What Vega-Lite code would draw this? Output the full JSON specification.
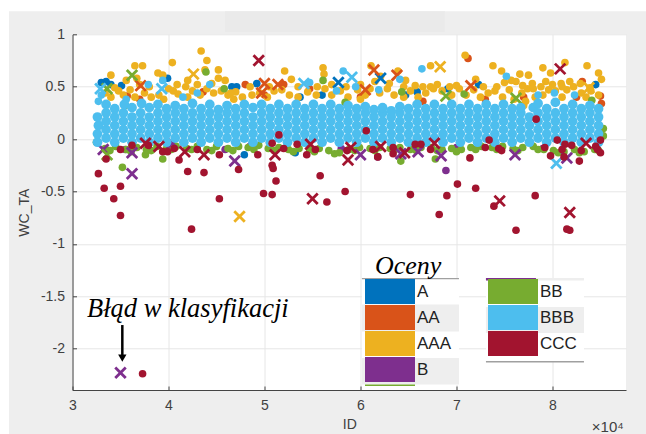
{"$schema":"https://vega.github.io/schema/vega-lite/v6.json","width":553.5,"height":355.7,"autosize":{"type":"none"},"padding":{"left":72.5,"top":34.3,"right":20,"bottom":44},"background":"#eeeeee","config":{"view":{"fill":"#ffffff","stroke":null},"font":"Liberation Sans"},
"datasets":{
"circles":[
{"x":33000,"y":0.54,"r":"A"},{"x":33500,"y":0.55,"r":"A"},{"x":34000,"y":0.52,"r":"A"},{"x":35100,"y":0.51,"r":"A"},{"x":39900,"y":0.58,"r":"A"},{"x":46600,"y":0.5,"r":"A"},{"x":47100,"y":0.5,"r":"A"},{"x":49200,"y":0.53,"r":"A"},{"x":53700,"y":0.4,"r":"A"},{"x":56000,"y":0.42,"r":"A"},{"x":53200,"y":-0.13,"r":"A"},{"x":47900,"y":-0.15,"r":"A"},{"x":84500,"y":0.52,"r":"A"},{"x":72300,"y":0.52,"r":"A"},{"x":65900,"y":0.45,"r":"A"},{"x":69100,"y":0.48,"r":"A"},{"x":64700,"y":0.42,"r":"A"},
{"x":48000,"y":0.52,"r":"AA"},{"x":52000,"y":0.52,"r":"AA"},{"x":54700,"y":0.48,"r":"AA"},{"x":43600,"y":0.45,"r":"AA"},{"x":35700,"y":0.41,"r":"AA"},{"x":71200,"y":0.77,"r":"AA"},{"x":85000,"y":0.41,"r":"AA"},{"x":85100,"y":0.34,"r":"AA"},{"x":83100,"y":0.55,"r":"AA"},{"x":37000,"y":0.38,"r":"AA"},{"x":50000,"y":0.42,"r":"AA"},{"x":60000,"y":0.4,"r":"AA"},{"x":66500,"y":0.36,"r":"AA"},{"x":73000,"y":0.38,"r":"AA"},{"x":77000,"y":0.4,"r":"AA"},{"x":82500,"y":0.4,"r":"AA"},
{"x":43400,"y":0.84,"r":"AAA"},{"x":44000,"y":0.75,"r":"AAA"},{"x":40400,"y":0.73,"r":"AAA"},{"x":37300,"y":0.7,"r":"AAA"},{"x":36500,"y":0.7,"r":"AAA"},{"x":34000,"y":0.61,"r":"AAA"},{"x":38900,"y":0.63,"r":"AAA"},{"x":39400,"y":0.61,"r":"AAA"},{"x":45200,"y":0.66,"r":"AAA"},{"x":43800,"y":0.66,"r":"AAA"},{"x":42000,"y":0.56,"r":"AAA"},{"x":45200,"y":0.58,"r":"AAA"},{"x":45900,"y":0.56,"r":"AAA"},{"x":52100,"y":0.65,"r":"AAA"},{"x":52800,"y":0.57,"r":"AAA"},{"x":56100,"y":0.68,"r":"AAA"},{"x":56200,"y":0.62,"r":"AAA"},{"x":35600,"y":0.56,"r":"AAA"},{"x":34400,"y":0.49,"r":"AAA"},{"x":36700,"y":0.58,"r":"AAA"},{"x":40900,"y":0.52,"r":"AAA"},{"x":61100,"y":0.7,"r":"AAA"},{"x":70900,"y":0.8,"r":"AAA"},{"x":67300,"y":0.7,"r":"AAA"},{"x":73800,"y":0.7,"r":"AAA"},{"x":74700,"y":0.65,"r":"AAA"},{"x":76600,"y":0.62,"r":"AAA"},{"x":77500,"y":0.61,"r":"AAA"},{"x":79000,"y":0.68,"r":"AAA"},{"x":79800,"y":0.63,"r":"AAA"},{"x":81300,"y":0.73,"r":"AAA"},{"x":83600,"y":0.7,"r":"AAA"},{"x":84800,"y":0.63,"r":"AAA"},{"x":85100,"y":0.57,"r":"AAA"},{"x":79300,"y":0.55,"r":"AAA"},{"x":63900,"y":0.65,"r":"AAA"},{"x":62100,"y":0.6,"r":"AAA"},{"x":64700,"y":0.56,"r":"AAA"},{"x":72000,"y":0.57,"r":"AAA"},{"x":75000,"y":0.54,"r":"AAA"},{"x":75700,"y":0.56,"r":"AAA"},{"x":81800,"y":0.55,"r":"AAA"},{"x":80900,"y":0.53,"r":"AAA"},{"x":82900,"y":0.53,"r":"AAA"},{"x":69300,"y":0.5,"r":"AAA"},{"x":67300,"y":0.5,"r":"AAA"},{"x":65700,"y":0.51,"r":"AAA"},{"x":77900,"y":0.53,"r":"AAA"},{"x":76900,"y":0.51,"r":"AAA"},{"x":83900,"y":0.49,"r":"AAA"},
{"x":33400,"y":0.44,"r":"AAA"},{"x":34800,"y":0.46,"r":"AAA"},{"x":35300,"y":0.42,"r":"AAA"},{"x":36000,"y":0.47,"r":"AAA"},{"x":37500,"y":0.44,"r":"AAA"},{"x":38200,"y":0.4,"r":"AAA"},{"x":39000,"y":0.42,"r":"AAA"},{"x":40000,"y":0.48,"r":"AAA"},{"x":40500,"y":0.46,"r":"AAA"},{"x":41000,"y":0.43,"r":"AAA"},{"x":42500,"y":0.46,"r":"AAA"},{"x":43300,"y":0.42,"r":"AAA"},{"x":44000,"y":0.48,"r":"AAA"},{"x":44700,"y":0.44,"r":"AAA"},{"x":45500,"y":0.46,"r":"AAA"},{"x":46200,"y":0.42,"r":"AAA"},{"x":47000,"y":0.45,"r":"AAA"},{"x":48700,"y":0.42,"r":"AAA"},{"x":49500,"y":0.44,"r":"AAA"},{"x":51000,"y":0.46,"r":"AAA"},{"x":51800,"y":0.47,"r":"AAA"},{"x":52600,"y":0.42,"r":"AAA"},{"x":54500,"y":0.45,"r":"AAA"},{"x":56300,"y":0.48,"r":"AAA"},{"x":57000,"y":0.42,"r":"AAA"},{"x":57900,"y":0.46,"r":"AAA"},{"x":59700,"y":0.47,"r":"AAA"},{"x":60500,"y":0.42,"r":"AAA"},{"x":61000,"y":0.48,"r":"AAA"},{"x":62000,"y":0.44,"r":"AAA"},{"x":62800,"y":0.48,"r":"AAA"},{"x":63500,"y":0.42,"r":"AAA"},{"x":65200,"y":0.46,"r":"AAA"},{"x":66800,"y":0.44,"r":"AAA"},{"x":67600,"y":0.48,"r":"AAA"},{"x":68500,"y":0.46,"r":"AAA"},{"x":70300,"y":0.48,"r":"AAA"},{"x":71000,"y":0.42,"r":"AAA"},{"x":71800,"y":0.47,"r":"AAA"},{"x":73300,"y":0.44,"r":"AAA"},{"x":74000,"y":0.46,"r":"AAA"},{"x":75500,"y":0.47,"r":"AAA"},{"x":76800,"y":0.44,"r":"AAA"},{"x":77200,"y":0.36,"r":"AAA"},{"x":77400,"y":0.48,"r":"AAA"},{"x":79600,"y":0.47,"r":"AAA"},{"x":80300,"y":0.46,"r":"AAA"},{"x":81000,"y":0.5,"r":"AAA"},{"x":81500,"y":0.47,"r":"AAA"},{"x":82200,"y":0.5,"r":"AAA"},{"x":83000,"y":0.44,"r":"AAA"},{"x":84000,"y":0.46,"r":"AAA"},
{"x":37000,"y":0.52,"r":"AAA"},{"x":38000,"y":0.5,"r":"AAA"},{"x":41800,"y":0.5,"r":"AAA"},{"x":43000,"y":0.52,"r":"AAA"},{"x":44500,"y":0.53,"r":"AAA"},{"x":46500,"y":0.44,"r":"AAA"},{"x":48500,"y":0.5,"r":"AAA"},{"x":50500,"y":0.5,"r":"AAA"},{"x":53500,"y":0.5,"r":"AAA"},{"x":55500,"y":0.5,"r":"AAA"},{"x":57000,"y":0.52,"r":"AAA"},{"x":58500,"y":0.5,"r":"AAA"},{"x":60000,"y":0.52,"r":"AAA"},{"x":61500,"y":0.55,"r":"AAA"},{"x":63000,"y":0.53,"r":"AAA"},{"x":64500,"y":0.5,"r":"AAA"},{"x":66500,"y":0.5,"r":"AAA"},{"x":68000,"y":0.52,"r":"AAA"},{"x":70000,"y":0.51,"r":"AAA"},{"x":72800,"y":0.5,"r":"AAA"},{"x":74200,"y":0.5,"r":"AAA"},{"x":76200,"y":0.55,"r":"AAA"},{"x":78000,"y":0.48,"r":"AAA"},{"x":78800,"y":0.5,"r":"AAA"},{"x":80000,"y":0.52,"r":"AAA"},
{"x":34000,"y":0.4,"r":"AAA"},{"x":36500,"y":0.4,"r":"AAA"},{"x":39500,"y":0.38,"r":"AAA"},{"x":42000,"y":0.4,"r":"AAA"},{"x":46800,"y":0.38,"r":"AAA"},{"x":47700,"y":0.4,"r":"AAA"},{"x":50300,"y":0.4,"r":"AAA"},{"x":53500,"y":0.4,"r":"AAA"},{"x":55400,"y":0.42,"r":"AAA"},{"x":58700,"y":0.4,"r":"AAA"},{"x":60000,"y":0.38,"r":"AAA"},{"x":64500,"y":0.4,"r":"AAA"},{"x":66000,"y":0.4,"r":"AAA"},{"x":69500,"y":0.42,"r":"AAA"},{"x":72500,"y":0.4,"r":"AAA"},{"x":74800,"y":0.4,"r":"AAA"},{"x":76000,"y":0.38,"r":"AAA"},{"x":77000,"y":0.32,"r":"AAA"},{"x":78200,"y":0.4,"r":"AAA"},{"x":79000,"y":0.42,"r":"AAA"},{"x":81000,"y":0.4,"r":"AAA"},{"x":83500,"y":0.4,"r":"AAA"},{"x":84800,"y":0.42,"r":"AAA"},
{"x":35500,"y":-0.1,"r":"B"},{"x":45900,"y":-0.1,"r":"B"},{"x":48500,"y":-0.07,"r":"B"},{"x":68900,"y":-0.3,"r":"B"},{"x":61800,"y":-0.17,"r":"B"},{"x":58000,"y":-0.09,"r":"B"},{"x":70000,"y":-0.08,"r":"B"},{"x":79000,"y":-0.09,"r":"B"},
{"x":43900,"y":0.64,"r":"BB"},{"x":45800,"y":0.48,"r":"BB"},{"x":56100,"y":0.56,"r":"BB"},{"x":35200,"y":-0.27,"r":"BB"},{"x":37600,"y":-0.15,"r":"BB"},{"x":39400,"y":-0.19,"r":"BB"},{"x":35500,"y":0.32,"r":"BB"},{"x":64300,"y":0.45,"r":"BB"},{"x":58400,"y":0.35,"r":"BB"},{"x":70800,"y":0.43,"r":"BB"},{"x":84100,"y":0.37,"r":"BB"},{"x":64200,"y":-0.21,"r":"BB"},{"x":67800,"y":-0.19,"r":"BB"},
{"x":32500,"y":-0.03,"r":"BB"},{"x":33400,"y":-0.09,"r":"BB"},{"x":34500,"y":-0.07,"r":"BB"},{"x":35600,"y":-0.1,"r":"BB"},{"x":36700,"y":-0.08,"r":"BB"},{"x":37700,"y":-0.1,"r":"BB"},{"x":38800,"y":-0.07,"r":"BB"},{"x":39800,"y":-0.09,"r":"BB"},{"x":40800,"y":-0.07,"r":"BB"},{"x":41900,"y":-0.09,"r":"BB"},{"x":43000,"y":-0.07,"r":"BB"},{"x":44000,"y":-0.1,"r":"BB"},{"x":45000,"y":-0.07,"r":"BB"},{"x":46200,"y":-0.09,"r":"BB"},{"x":47300,"y":-0.07,"r":"BB"},{"x":48300,"y":-0.08,"r":"BB"},{"x":49400,"y":-0.06,"r":"BB"},{"x":50400,"y":-0.09,"r":"BB"},{"x":51500,"y":-0.08,"r":"BB"},{"x":52500,"y":-0.1,"r":"BB"},{"x":53600,"y":-0.09,"r":"BB"},{"x":54700,"y":-0.1,"r":"BB"},{"x":55700,"y":-0.09,"r":"BB"},{"x":56700,"y":-0.11,"r":"BB"},{"x":57800,"y":-0.13,"r":"BB"},{"x":58800,"y":-0.1,"r":"BB"},{"x":59900,"y":-0.08,"r":"BB"},{"x":61000,"y":-0.09,"r":"BB"},{"x":62000,"y":-0.08,"r":"BB"},{"x":63100,"y":-0.09,"r":"BB"},{"x":64100,"y":-0.08,"r":"BB"},{"x":65200,"y":-0.1,"r":"BB"},{"x":66300,"y":-0.08,"r":"BB"},{"x":67400,"y":-0.08,"r":"BB"},{"x":68500,"y":-0.1,"r":"BB"},{"x":69500,"y":-0.09,"r":"BB"},{"x":70500,"y":-0.1,"r":"BB"},{"x":71500,"y":-0.08,"r":"BB"},{"x":72600,"y":-0.07,"r":"BB"},{"x":73700,"y":-0.08,"r":"BB"},{"x":74800,"y":-0.07,"r":"BB"},{"x":75900,"y":-0.09,"r":"BB"},{"x":76900,"y":-0.08,"r":"BB"},{"x":78000,"y":-0.07,"r":"BB"},{"x":79100,"y":-0.1,"r":"BB"},{"x":80100,"y":-0.11,"r":"BB"},{"x":81200,"y":-0.12,"r":"BB"},{"x":82300,"y":-0.1,"r":"BB"},{"x":83300,"y":-0.12,"r":"BB"},{"x":84400,"y":-0.1,"r":"BB"},{"x":85300,"y":0.03,"r":"BB"},{"x":85300,"y":0.1,"r":"BB"},
{"x":33900,"y":-0.11,"r":"BB"},{"x":36100,"y":-0.12,"r":"BB"},{"x":38200,"y":-0.11,"r":"BB"},{"x":40300,"y":-0.1,"r":"BB"},{"x":42400,"y":-0.1,"r":"BB"},{"x":44500,"y":-0.11,"r":"BB"},{"x":46700,"y":-0.11,"r":"BB"},{"x":48900,"y":-0.1,"r":"BB"},{"x":51000,"y":-0.11,"r":"BB"},{"x":53000,"y":-0.12,"r":"BB"},{"x":55200,"y":-0.12,"r":"BB"},{"x":57300,"y":-0.14,"r":"BB"},{"x":59400,"y":-0.11,"r":"BB"},{"x":61500,"y":-0.11,"r":"BB"},{"x":63600,"y":-0.1,"r":"BB"},{"x":65800,"y":-0.11,"r":"BB"},{"x":68000,"y":-0.11,"r":"BB"},{"x":70000,"y":-0.12,"r":"BB"},{"x":72000,"y":-0.1,"r":"BB"},{"x":74200,"y":-0.1,"r":"BB"},{"x":76400,"y":-0.11,"r":"BB"},{"x":78500,"y":-0.1,"r":"BB"},{"x":80600,"y":-0.13,"r":"BB"},{"x":82800,"y":-0.13,"r":"BB"},{"x":84800,"y":-0.11,"r":"BB"},
{"x":58200,"y":0.65,"r":"BBB"},{"x":66400,"y":0.67,"r":"BBB"},{"x":64100,"y":0.57,"r":"BBB"},{"x":54700,"y":0.54,"r":"BBB"},{"x":44300,"y":0.52,"r":"BBB"},{"x":37900,"y":0.52,"r":"BBB"},{"x":39400,"y":0.56,"r":"BBB"},{"x":75200,"y":0.6,"r":"BBB"},{"x":57500,"y":0.46,"r":"BBB"},{"x":59500,"y":0.5,"r":"BBB"},{"x":61900,"y":0.47,"r":"BBB"},{"x":78500,"y":0.42,"r":"BBB"},{"x":80200,"y":0.44,"r":"BBB"},{"x":82300,"y":0.42,"r":"BBB"},{"x":43000,"y":0.44,"r":"BBB"},{"x":33000,"y":0.42,"r":"BBB"},{"x":35600,"y":0.38,"r":"BBB"},{"x":41500,"y":0.4,"r":"BBB"},
{"x":32600,"y":-0.03,"r":"BBB"},{"x":32600,"y":0.05,"r":"BBB"},{"x":32700,"y":0.13,"r":"BBB"},{"x":32600,"y":0.21,"r":"BBB"},{"x":32700,"y":0.36,"r":"BBB"},
{"x":33500,"y":0.01,"r":"BBB"},{"x":33500,"y":0.09,"r":"BBB"},{"x":33500,"y":0.17,"r":"BBB"},{"x":33500,"y":0.25,"r":"BBB"},{"x":33500,"y":0.33,"r":"BBB"},
{"x":34400,"y":-0.03,"r":"BBB"},{"x":34400,"y":0.05,"r":"BBB"},{"x":34400,"y":0.13,"r":"BBB"},{"x":34400,"y":0.21,"r":"BBB"},{"x":34400,"y":0.29,"r":"BBB"},
{"x":35300,"y":0.01,"r":"BBB"},{"x":35300,"y":0.09,"r":"BBB"},{"x":35300,"y":0.17,"r":"BBB"},{"x":35300,"y":0.25,"r":"BBB"},{"x":35400,"y":0.33,"r":"BBB"},
{"x":36200,"y":-0.03,"r":"BBB"},{"x":36200,"y":0.05,"r":"BBB"},{"x":36200,"y":0.13,"r":"BBB"},{"x":36200,"y":0.21,"r":"BBB"},{"x":36200,"y":0.3,"r":"BBB"},
{"x":37100,"y":0.01,"r":"BBB"},{"x":37100,"y":0.09,"r":"BBB"},{"x":37100,"y":0.17,"r":"BBB"},{"x":37100,"y":0.25,"r":"BBB"},{"x":37200,"y":0.34,"r":"BBB"},
{"x":38000,"y":-0.03,"r":"BBB"},{"x":38000,"y":0.05,"r":"BBB"},{"x":38000,"y":0.13,"r":"BBB"},{"x":38000,"y":0.21,"r":"BBB"},{"x":38000,"y":0.3,"r":"BBB"},
{"x":38900,"y":0.01,"r":"BBB"},{"x":38900,"y":0.09,"r":"BBB"},{"x":38900,"y":0.17,"r":"BBB"},{"x":38900,"y":0.25,"r":"BBB"},{"x":38900,"y":0.33,"r":"BBB"},
{"x":39800,"y":-0.03,"r":"BBB"},{"x":39800,"y":0.05,"r":"BBB"},{"x":39800,"y":0.13,"r":"BBB"},{"x":39800,"y":0.21,"r":"BBB"},{"x":39800,"y":0.29,"r":"BBB"},
{"x":40700,"y":0.01,"r":"BBB"},{"x":40700,"y":0.09,"r":"BBB"},{"x":40700,"y":0.17,"r":"BBB"},{"x":40700,"y":0.25,"r":"BBB"},{"x":40700,"y":0.32,"r":"BBB"},
{"x":41600,"y":-0.03,"r":"BBB"},{"x":41600,"y":0.05,"r":"BBB"},{"x":41600,"y":0.13,"r":"BBB"},{"x":41600,"y":0.21,"r":"BBB"},{"x":41600,"y":0.29,"r":"BBB"},
{"x":42500,"y":0.01,"r":"BBB"},{"x":42500,"y":0.09,"r":"BBB"},{"x":42500,"y":0.17,"r":"BBB"},{"x":42500,"y":0.25,"r":"BBB"},{"x":42500,"y":0.34,"r":"BBB"},
{"x":43400,"y":-0.03,"r":"BBB"},{"x":43400,"y":0.05,"r":"BBB"},{"x":43400,"y":0.13,"r":"BBB"},{"x":43400,"y":0.21,"r":"BBB"},{"x":43400,"y":0.29,"r":"BBB"},
{"x":44300,"y":0.01,"r":"BBB"},{"x":44300,"y":0.09,"r":"BBB"},{"x":44300,"y":0.17,"r":"BBB"},{"x":44300,"y":0.25,"r":"BBB"},{"x":44300,"y":0.33,"r":"BBB"},
{"x":45200,"y":-0.03,"r":"BBB"},{"x":45200,"y":0.05,"r":"BBB"},{"x":45200,"y":0.13,"r":"BBB"},{"x":45200,"y":0.21,"r":"BBB"},{"x":45200,"y":0.28,"r":"BBB"},
{"x":46100,"y":0.01,"r":"BBB"},{"x":46100,"y":0.09,"r":"BBB"},{"x":46100,"y":0.17,"r":"BBB"},{"x":46100,"y":0.25,"r":"BBB"},{"x":46100,"y":0.32,"r":"BBB"},
{"x":47000,"y":-0.03,"r":"BBB"},{"x":47000,"y":0.05,"r":"BBB"},{"x":47000,"y":0.13,"r":"BBB"},{"x":47000,"y":0.21,"r":"BBB"},{"x":47000,"y":0.29,"r":"BBB"},
{"x":47900,"y":0.01,"r":"BBB"},{"x":47900,"y":0.09,"r":"BBB"},{"x":47900,"y":0.17,"r":"BBB"},{"x":47900,"y":0.25,"r":"BBB"},{"x":47900,"y":0.33,"r":"BBB"},
{"x":48800,"y":-0.03,"r":"BBB"},{"x":48800,"y":0.05,"r":"BBB"},{"x":48800,"y":0.13,"r":"BBB"},{"x":48800,"y":0.21,"r":"BBB"},{"x":48800,"y":0.3,"r":"BBB"},
{"x":49700,"y":0.01,"r":"BBB"},{"x":49700,"y":0.09,"r":"BBB"},{"x":49700,"y":0.17,"r":"BBB"},{"x":49700,"y":0.25,"r":"BBB"},{"x":49700,"y":0.33,"r":"BBB"},
{"x":50600,"y":-0.03,"r":"BBB"},{"x":50600,"y":0.05,"r":"BBB"},{"x":50600,"y":0.13,"r":"BBB"},{"x":50600,"y":0.21,"r":"BBB"},{"x":50600,"y":0.29,"r":"BBB"},
{"x":51500,"y":0.01,"r":"BBB"},{"x":51500,"y":0.09,"r":"BBB"},{"x":51500,"y":0.17,"r":"BBB"},{"x":51500,"y":0.25,"r":"BBB"},{"x":51500,"y":0.33,"r":"BBB"},
{"x":52400,"y":-0.03,"r":"BBB"},{"x":52400,"y":0.05,"r":"BBB"},{"x":52400,"y":0.13,"r":"BBB"},{"x":52400,"y":0.21,"r":"BBB"},{"x":52400,"y":0.29,"r":"BBB"},
{"x":53300,"y":0.01,"r":"BBB"},{"x":53300,"y":0.09,"r":"BBB"},{"x":53300,"y":0.17,"r":"BBB"},{"x":53300,"y":0.25,"r":"BBB"},{"x":53300,"y":0.33,"r":"BBB"},
{"x":54200,"y":-0.03,"r":"BBB"},{"x":54200,"y":0.05,"r":"BBB"},{"x":54200,"y":0.13,"r":"BBB"},{"x":54200,"y":0.21,"r":"BBB"},{"x":54200,"y":0.29,"r":"BBB"},
{"x":55100,"y":0.01,"r":"BBB"},{"x":55100,"y":0.09,"r":"BBB"},{"x":55100,"y":0.17,"r":"BBB"},{"x":55100,"y":0.25,"r":"BBB"},{"x":55100,"y":0.33,"r":"BBB"},
{"x":56000,"y":-0.03,"r":"BBB"},{"x":56000,"y":0.05,"r":"BBB"},{"x":56000,"y":0.13,"r":"BBB"},{"x":56000,"y":0.21,"r":"BBB"},{"x":56000,"y":0.29,"r":"BBB"},
{"x":56900,"y":0.01,"r":"BBB"},{"x":56900,"y":0.09,"r":"BBB"},{"x":56900,"y":0.17,"r":"BBB"},{"x":56900,"y":0.25,"r":"BBB"},{"x":56900,"y":0.33,"r":"BBB"},
{"x":57800,"y":-0.03,"r":"BBB"},{"x":57800,"y":0.05,"r":"BBB"},{"x":57800,"y":0.13,"r":"BBB"},{"x":57800,"y":0.21,"r":"BBB"},{"x":57800,"y":0.29,"r":"BBB"},
{"x":58700,"y":0.01,"r":"BBB"},{"x":58700,"y":0.09,"r":"BBB"},{"x":58700,"y":0.17,"r":"BBB"},{"x":58700,"y":0.25,"r":"BBB"},{"x":58700,"y":0.32,"r":"BBB"},
{"x":59600,"y":-0.03,"r":"BBB"},{"x":59600,"y":0.05,"r":"BBB"},{"x":59600,"y":0.13,"r":"BBB"},{"x":59600,"y":0.21,"r":"BBB"},{"x":59600,"y":0.29,"r":"BBB"},
{"x":60500,"y":0.01,"r":"BBB"},{"x":60500,"y":0.09,"r":"BBB"},{"x":60500,"y":0.17,"r":"BBB"},{"x":60500,"y":0.25,"r":"BBB"},{"x":60500,"y":0.31,"r":"BBB"},
{"x":61400,"y":-0.03,"r":"BBB"},{"x":61400,"y":0.05,"r":"BBB"},{"x":61400,"y":0.13,"r":"BBB"},{"x":61400,"y":0.21,"r":"BBB"},{"x":61400,"y":0.28,"r":"BBB"},
{"x":62300,"y":0.01,"r":"BBB"},{"x":62300,"y":0.09,"r":"BBB"},{"x":62300,"y":0.17,"r":"BBB"},{"x":62300,"y":0.25,"r":"BBB"},{"x":62300,"y":0.3,"r":"BBB"},
{"x":63200,"y":-0.03,"r":"BBB"},{"x":63200,"y":0.05,"r":"BBB"},{"x":63200,"y":0.13,"r":"BBB"},{"x":63200,"y":0.21,"r":"BBB"},{"x":63200,"y":0.27,"r":"BBB"},
{"x":64100,"y":0.01,"r":"BBB"},{"x":64100,"y":0.09,"r":"BBB"},{"x":64100,"y":0.17,"r":"BBB"},{"x":64100,"y":0.25,"r":"BBB"},{"x":64100,"y":0.31,"r":"BBB"},
{"x":65000,"y":-0.03,"r":"BBB"},{"x":65000,"y":0.05,"r":"BBB"},{"x":65000,"y":0.13,"r":"BBB"},{"x":65000,"y":0.21,"r":"BBB"},{"x":65000,"y":0.29,"r":"BBB"},
{"x":65900,"y":0.01,"r":"BBB"},{"x":65900,"y":0.09,"r":"BBB"},{"x":65900,"y":0.17,"r":"BBB"},{"x":65900,"y":0.25,"r":"BBB"},{"x":65900,"y":0.33,"r":"BBB"},
{"x":66800,"y":-0.03,"r":"BBB"},{"x":66800,"y":0.05,"r":"BBB"},{"x":66800,"y":0.13,"r":"BBB"},{"x":66800,"y":0.21,"r":"BBB"},{"x":66800,"y":0.29,"r":"BBB"},
{"x":67700,"y":0.01,"r":"BBB"},{"x":67700,"y":0.09,"r":"BBB"},{"x":67700,"y":0.17,"r":"BBB"},{"x":67700,"y":0.25,"r":"BBB"},{"x":67700,"y":0.33,"r":"BBB"},
{"x":68600,"y":-0.03,"r":"BBB"},{"x":68600,"y":0.05,"r":"BBB"},{"x":68600,"y":0.13,"r":"BBB"},{"x":68600,"y":0.21,"r":"BBB"},{"x":68600,"y":0.29,"r":"BBB"},
{"x":69500,"y":0.01,"r":"BBB"},{"x":69500,"y":0.09,"r":"BBB"},{"x":69500,"y":0.17,"r":"BBB"},{"x":69500,"y":0.25,"r":"BBB"},{"x":69500,"y":0.33,"r":"BBB"},
{"x":70400,"y":-0.03,"r":"BBB"},{"x":70400,"y":0.05,"r":"BBB"},{"x":70400,"y":0.13,"r":"BBB"},{"x":70400,"y":0.21,"r":"BBB"},{"x":70400,"y":0.29,"r":"BBB"},
{"x":71300,"y":0.01,"r":"BBB"},{"x":71300,"y":0.09,"r":"BBB"},{"x":71300,"y":0.17,"r":"BBB"},{"x":71300,"y":0.25,"r":"BBB"},{"x":71300,"y":0.33,"r":"BBB"},
{"x":72200,"y":-0.03,"r":"BBB"},{"x":72200,"y":0.05,"r":"BBB"},{"x":72200,"y":0.13,"r":"BBB"},{"x":72200,"y":0.21,"r":"BBB"},{"x":72200,"y":0.29,"r":"BBB"},
{"x":73100,"y":0.01,"r":"BBB"},{"x":73100,"y":0.09,"r":"BBB"},{"x":73100,"y":0.17,"r":"BBB"},{"x":73100,"y":0.25,"r":"BBB"},{"x":73100,"y":0.33,"r":"BBB"},
{"x":74000,"y":-0.03,"r":"BBB"},{"x":74000,"y":0.05,"r":"BBB"},{"x":74000,"y":0.13,"r":"BBB"},{"x":74000,"y":0.21,"r":"BBB"},{"x":74000,"y":0.29,"r":"BBB"},
{"x":74900,"y":0.01,"r":"BBB"},{"x":74900,"y":0.09,"r":"BBB"},{"x":74900,"y":0.17,"r":"BBB"},{"x":74900,"y":0.25,"r":"BBB"},{"x":74900,"y":0.33,"r":"BBB"},
{"x":75800,"y":-0.03,"r":"BBB"},{"x":75800,"y":0.05,"r":"BBB"},{"x":75800,"y":0.13,"r":"BBB"},{"x":75800,"y":0.21,"r":"BBB"},{"x":75800,"y":0.29,"r":"BBB"},
{"x":76700,"y":0.01,"r":"BBB"},{"x":76700,"y":0.09,"r":"BBB"},{"x":76700,"y":0.17,"r":"BBB"},{"x":76700,"y":0.25,"r":"BBB"},{"x":76700,"y":0.3,"r":"BBB"},
{"x":77600,"y":-0.03,"r":"BBB"},{"x":77600,"y":0.05,"r":"BBB"},{"x":77600,"y":0.13,"r":"BBB"},{"x":77600,"y":0.21,"r":"BBB"},{"x":78000,"y":0.3,"r":"BBB"},
{"x":78500,"y":0.01,"r":"BBB"},{"x":78500,"y":0.09,"r":"BBB"},{"x":78500,"y":0.17,"r":"BBB"},{"x":78500,"y":0.25,"r":"BBB"},{"x":78500,"y":0.34,"r":"BBB"},
{"x":79400,"y":-0.03,"r":"BBB"},{"x":79400,"y":0.05,"r":"BBB"},{"x":79400,"y":0.13,"r":"BBB"},{"x":79400,"y":0.21,"r":"BBB"},{"x":79400,"y":0.29,"r":"BBB"},
{"x":80300,"y":0.01,"r":"BBB"},{"x":80300,"y":0.09,"r":"BBB"},{"x":80300,"y":0.17,"r":"BBB"},{"x":80300,"y":0.25,"r":"BBB"},{"x":80300,"y":0.35,"r":"BBB"},
{"x":81200,"y":-0.03,"r":"BBB"},{"x":81200,"y":0.05,"r":"BBB"},{"x":81200,"y":0.13,"r":"BBB"},{"x":81200,"y":0.21,"r":"BBB"},{"x":81200,"y":0.29,"r":"BBB"},
{"x":82100,"y":0.01,"r":"BBB"},{"x":82100,"y":0.09,"r":"BBB"},{"x":82100,"y":0.17,"r":"BBB"},{"x":82100,"y":0.25,"r":"BBB"},{"x":82100,"y":0.33,"r":"BBB"},
{"x":83000,"y":-0.03,"r":"BBB"},{"x":83000,"y":0.05,"r":"BBB"},{"x":83000,"y":0.13,"r":"BBB"},{"x":83000,"y":0.21,"r":"BBB"},{"x":83000,"y":0.29,"r":"BBB"},
{"x":83900,"y":0.01,"r":"BBB"},{"x":83900,"y":0.09,"r":"BBB"},{"x":83900,"y":0.17,"r":"BBB"},{"x":83900,"y":0.25,"r":"BBB"},{"x":83900,"y":0.32,"r":"BBB"},
{"x":84800,"y":-0.03,"r":"BBB"},{"x":84800,"y":0.05,"r":"BBB"},{"x":84800,"y":0.13,"r":"BBB"},{"x":84800,"y":0.21,"r":"BBB"},{"x":84800,"y":0.29,"r":"BBB"},
{"x":37300,"y":-2.24,"r":"CCC"},{"x":32700,"y":-0.33,"r":"CCC"},{"x":33300,"y":-0.47,"r":"CCC"},{"x":35000,"y":-0.45,"r":"CCC"},{"x":34300,"y":-0.57,"r":"CCC"},{"x":35000,"y":-0.73,"r":"CCC"},{"x":33500,"y":-0.19,"r":"CCC"},{"x":35000,"y":-0.1,"r":"CCC"},{"x":36200,"y":-0.06,"r":"CCC"},{"x":37900,"y":-0.06,"r":"CCC"},{"x":39400,"y":-0.12,"r":"CCC"},{"x":39900,"y":-0.12,"r":"CCC"},{"x":40600,"y":-0.09,"r":"CCC"},{"x":41100,"y":-0.2,"r":"CCC"},{"x":42000,"y":-0.31,"r":"CCC"},{"x":43700,"y":-0.32,"r":"CCC"},{"x":43000,"y":-0.1,"r":"CCC"},{"x":45300,"y":-0.15,"r":"CCC"},{"x":45300,"y":-0.57,"r":"CCC"},{"x":47300,"y":-0.29,"r":"CCC"},{"x":49300,"y":-0.15,"r":"CCC"},{"x":49900,"y":-0.52,"r":"CCC"},{"x":50800,"y":-0.53,"r":"CCC"},{"x":51200,"y":-0.4,"r":"CCC"},{"x":50800,"y":-0.25,"r":"CCC"},{"x":50900,"y":-0.28,"r":"CCC"},{"x":50800,"y":-0.04,"r":"CCC"},{"x":51500,"y":0.04,"r":"CCC"},{"x":52000,"y":-0.09,"r":"CCC"},{"x":53400,"y":-0.05,"r":"CCC"},{"x":54400,"y":-0.15,"r":"CCC"},{"x":55800,"y":-0.35,"r":"CCC"},{"x":55300,"y":-0.1,"r":"CCC"},{"x":42400,"y":-0.86,"r":"CCC"},{"x":56500,"y":-0.6,"r":"CCC"},{"x":58400,"y":-0.5,"r":"CCC"},{"x":65200,"y":-0.53,"r":"CCC"},{"x":69000,"y":-0.54,"r":"CCC"},{"x":70100,"y":-0.43,"r":"CCC"},{"x":72000,"y":-0.47,"r":"CCC"},{"x":68200,"y":-0.72,"r":"CCC"},{"x":73900,"y":-0.64,"r":"CCC"},{"x":78200,"y":-0.54,"r":"CCC"},{"x":71400,"y":-0.18,"r":"CCC"},{"x":60600,"y":0.08,"r":"CCC"},{"x":78300,"y":0.19,"r":"CCC"},{"x":73400,"y":-0.01,"r":"CCC"},{"x":76200,"y":-0.87,"r":"CCC"},{"x":81500,"y":-0.86,"r":"CCC"},{"x":81800,"y":-0.87,"r":"CCC"},{"x":58600,"y":-0.11,"r":"CCC"},{"x":61300,"y":-0.1,"r":"CCC"},{"x":61800,"y":-0.17,"r":"CCC"},{"x":63400,"y":-0.08,"r":"CCC"},{"x":63400,"y":-0.14,"r":"CCC"},{"x":65700,"y":-0.05,"r":"CCC"},{"x":66300,"y":-0.05,"r":"CCC"},{"x":67300,"y":-0.1,"r":"CCC"},{"x":73000,"y":-0.08,"r":"CCC"},{"x":74400,"y":-0.09,"r":"CCC"},{"x":74700,"y":-0.11,"r":"CCC"},{"x":79200,"y":-0.08,"r":"CCC"},{"x":79800,"y":-0.16,"r":"CCC"},{"x":80500,"y":-0.01,"r":"CCC"},{"x":81300,"y":-0.05,"r":"CCC"},{"x":81000,"y":-0.1,"r":"CCC"},{"x":81200,"y":-0.17,"r":"CCC"},{"x":82000,"y":-0.06,"r":"CCC"},{"x":82800,"y":-0.21,"r":"CCC"},{"x":83000,"y":-0.11,"r":"CCC"},{"x":84500,"y":-0.07,"r":"CCC"},{"x":84700,"y":-0.1,"r":"CCC"},{"x":85000,"y":-0.13,"r":"CCC"},{"x":85000,"y":-0.01,"r":"CCC"}
],
"errors":[
{"x":62100,"y":0.58,"r":"A"},{"x":57700,"y":0.54,"r":"A"},
{"x":37100,"y":0.51,"r":"AA"},{"x":50000,"y":0.53,"r":"AA"},{"x":49700,"y":0.44,"r":"AA"},{"x":51400,"y":0.52,"r":"AA"},{"x":61400,"y":0.66,"r":"AA"},{"x":63800,"y":0.61,"r":"AA"},{"x":71500,"y":0.51,"r":"AA"},{"x":60500,"y":0.47,"r":"AA"},
{"x":68300,"y":0.69,"r":"AAA"},{"x":42600,"y":0.62,"r":"AAA"},{"x":47400,"y":-0.74,"r":"AAA"},{"x":83800,"y":0.49,"r":"AAA"},
{"x":35000,"y":-2.23,"r":"B"},{"x":36200,"y":-0.13,"r":"B"},{"x":33200,"y":-0.1,"r":"B"},{"x":36200,"y":-0.33,"r":"B"},{"x":46900,"y":-0.21,"r":"B"},{"x":40400,"y":-0.04,"r":"B"},{"x":76100,"y":-0.15,"r":"B"},{"x":81500,"y":-0.18,"r":"B"},{"x":68400,"y":-0.16,"r":"B"},{"x":60000,"y":-0.15,"r":"B"},{"x":66000,"y":-0.12,"r":"B"},{"x":64200,"y":-0.14,"r":"B"},
{"x":36200,"y":0.61,"r":"BB"},{"x":33600,"y":0.48,"r":"BB"},{"x":76200,"y":0.39,"r":"BB"},{"x":68900,"y":0.41,"r":"BB"},{"x":33600,"y":-0.15,"r":"BB"},
{"x":59100,"y":0.59,"r":"BBB"},{"x":54100,"y":0.53,"r":"BBB"},{"x":32900,"y":0.48,"r":"BBB"},{"x":39300,"y":0.48,"r":"BBB"},{"x":80400,"y":-0.23,"r":"BBB"},
{"x":49400,"y":0.75,"r":"CCC"},{"x":55000,"y":-0.57,"r":"CCC"},{"x":81800,"y":-0.7,"r":"CCC"},{"x":74500,"y":-0.59,"r":"CCC"},{"x":80800,"y":0.67,"r":"CCC"},{"x":59000,"y":-0.08,"r":"CCC"},{"x":58700,"y":-0.2,"r":"CCC"},{"x":62100,"y":-0.07,"r":"CCC"},{"x":64600,"y":-0.13,"r":"CCC"},{"x":67700,"y":-0.04,"r":"CCC"},{"x":83500,"y":-0.04,"r":"CCC"},{"x":37600,"y":-0.04,"r":"CCC"},{"x":39000,"y":-0.07,"r":"CCC"},{"x":41700,"y":-0.12,"r":"CCC"},{"x":43700,"y":-0.15,"r":"CCC"},{"x":51100,"y":-0.15,"r":"CCC"},{"x":54800,"y":-0.05,"r":"CCC"}
]},
"encoding":{
"x":{"field":"x","type":"quantitative","scale":{"domain":[30000,87660],"nice":false,"zero":false},"axis":{"title":"ID","values":[30000,40000,50000,60000,70000,80000],"labelExpr":"datum.value/10000+''","grid":true,"gridColor":"#e6e6e6","domainColor":"#444444","tickColor":"#444444","tickSize":-4,"labelColor":"#404040","labelFontSize":14,"labelPadding":12,"labelFont":"Liberation Sans","labelFlush":false,"titleColor":"#404040","titleFontSize":14,"titleFontWeight":"normal","titleFont":"Liberation Sans","titlePadding":5}},
"y":{"field":"y","type":"quantitative","scale":{"domain":[-2.395,1],"nice":false,"zero":false},"axis":{"title":"WC_TA","values":[-2,-1.5,-1,-0.5,0,0.5,1],"labelExpr":"datum.value+''","grid":true,"gridColor":"#e6e6e6","domainColor":"#444444","tickColor":"#444444","tickSize":-4,"labelColor":"#404040","labelFontSize":14,"labelPadding":12,"labelFont":"Liberation Sans","titleColor":"#404040","titleFontSize":14,"titleFontWeight":"normal","titleFont":"Liberation Sans","titlePadding":9}}
},
"layer":[
{"data":{"values":[{"x":22448,"x2":23385,"y":1.33,"y2":-2.85},{"x":22448,"x2":89800,"y":1.33,"y2":1.221},{"x":60150,"x2":70260,"y":-1.326,"y2":-2.347},{"x":73070,"x2":83280,"y":-1.326,"y2":-2.128}]},"mark":{"type":"rect","color":"#ffffff","clip":false},"encoding":{"x2":{"field":"x2"},"y2":{"field":"y2"}}},
{"data":{"values":[{"x":45885,"x2":68800,"y":1.221,"y2":1.021}]},"mark":{"type":"rect","color":"#eaeaea","clip":false},"encoding":{"x2":{"field":"x2"},"y2":{"field":"y2"}}},
{"data":{"name":"circles"},"transform":[{"filter":"datum.r!='BBB'&&datum.r!='CCC'"}],"mark":{"type":"point","filled":true,"shape":"circle","size":58,"opacity":1,"strokeWidth":0},"encoding":{"color":{"field":"r","type":"nominal","scale":{"domain":["A","AA","AAA","B","BB","BBB","CCC"],"range":["#0072BD","#D95319","#EDB120","#7E2F8E","#77AC30","#4DBEEE","#A2142F"]},"legend":{"title":null,"orient":"none","legendX":292.5,"legendY":244.7,"columns":2,"direction":"vertical","padding":0,"symbolType":"M-1,-1H3V1H-1Z","symbolSize":625,"symbolStrokeWidth":0,"symbolOpacity":1,"labelOffset":27,"labelFontSize":17,"labelFont":"Liberation Sans","labelColor":"#222222","rowPadding":1,"columnPadding":36}}}},
{"data":{"name":"errors"},"transform":[{"filter":"datum.r!='CCC'"}],"mark":{"type":"point","filled":false,"shape":"M-1,-1L1,1M-1,1L1,-1","size":110,"strokeWidth":2.8,"opacity":1},"encoding":{"color":{"field":"r","type":"nominal","legend":null}}},
{"data":{"name":"circles"},"transform":[{"filter":"datum.r=='BBB'&&datum.y>=0.36"}],"mark":{"type":"point","filled":true,"shape":"circle","size":58,"opacity":1,"strokeWidth":0},"encoding":{"color":{"field":"r","type":"nominal","legend":null}}},
{"data":{"name":"circles"},"transform":[{"filter":"datum.r=='BBB'&&datum.y<0.36"}],"mark":{"type":"point","filled":true,"shape":"circle","size":95,"opacity":1,"strokeWidth":0},"encoding":{"color":{"field":"r","type":"nominal","legend":null}}},
{"data":{"name":"circles"},"transform":[{"filter":"datum.r=='CCC'"}],"mark":{"type":"point","filled":true,"shape":"circle","size":58,"opacity":1,"strokeWidth":0},"encoding":{"color":{"field":"r","type":"nominal","legend":null}}},
{"data":{"name":"errors"},"transform":[{"filter":"datum.r=='CCC'"}],"mark":{"type":"point","filled":false,"shape":"M-1,-1L1,1M-1,1L1,-1","size":110,"strokeWidth":2.8,"opacity":1},"encoding":{"color":{"field":"r","type":"nominal","legend":null}}},
{"data":{"values":[{"x":60150,"x2":70260,"y":-1.326,"y2":-1.338},{"x":73070,"x2":83280,"y":-2.118,"y2":-2.133}]},"mark":{"type":"rect","color":"#a0a0a0"},"encoding":{"x2":{"field":"x2"},"y2":{"field":"y2"}}},
{"data":{"values":[{"x":60150,"x2":70260,"y":-1.579,"y2":-1.837},{"x":60150,"x2":70260,"y":-2.09,"y2":-2.343},{"x":73070,"x2":83280,"y":-1.603,"y2":-1.851},{"x":73070,"x2":83280,"y":-1.326,"y2":-1.35}]},"mark":{"type":"rect","color":"#eeeeee"},"encoding":{"x2":{"field":"x2"},"y2":{"field":"y2"}}},
{"data":{"values":[{"x":73070,"x2":78280,"y":-1.326,"y2":-1.35}]},"mark":{"type":"rect","color":"#7E2F8E"},"encoding":{"x2":{"field":"x2"},"y2":{"field":"y2"}}},
{"data":{"values":[{"x":60470,"x2":65680,"y":-2.343,"y2":-2.357}]},"mark":{"type":"rect","color":"#77AC30"},"encoding":{"x2":{"field":"x2"},"y2":{"field":"y2"}}},
{"data":{"values":[{"x":35190,"y":-1.775,"y2":-2.07}]},"mark":{"type":"rule","color":"#000000","strokeWidth":2.5},"encoding":{"y2":{"field":"y2"}}},
{"data":{"values":[{"x":35190,"y":-2.09}]},"mark":{"type":"point","shape":"triangle-down","filled":true,"size":70,"color":"#000000","opacity":1},"encoding":{}},
{"data":{"values":[{"x":31510,"y":-1.7,"t":"Błąd w klasyfikacji"}]},"mark":{"type":"text","font":"Liberation Serif","fontStyle":"italic","fontSize":26.5,"align":"left","baseline":"alphabetic","color":"#000000"},"encoding":{"text":{"field":"t"}}},
{"data":{"values":[{"x":61510,"y":-1.288,"t":"Oceny"}]},"mark":{"type":"text","font":"Liberation Serif","fontStyle":"italic","fontSize":26,"align":"left","baseline":"alphabetic","color":"#000000"},"encoding":{"text":{"field":"t"}}},
{"data":{"values":[{"x":84100,"y":-2.796,"t":"×10⁴"}]},"mark":{"type":"text","font":"Liberation Sans","fontSize":15,"align":"left","baseline":"alphabetic","color":"#404040","clip":false},"encoding":{"text":{"field":"t"}}}
]}
